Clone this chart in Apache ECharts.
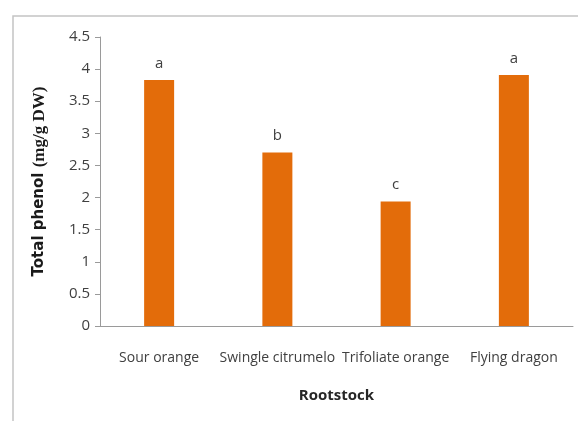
<!DOCTYPE html>
<html>
<head>
<meta charset="utf-8">
<script src="https://cdn.jsdelivr.net/npm/echarts@6/dist/echarts.min.js"></script>
<style>
  html, body { margin: 0; padding: 0; background: #ffffff; }
  #chart { width: 578px; height: 421px; }
</style>
</head>
<body>
<div id="chart"></div>
<script>
// Total phenol content by rootstock
const rootstocks = ['Sour orange', 'Swingle citrumelo', 'Trifoliate orange', 'Flying dragon'];
const totalPhenol = [3.83, 2.70, 1.94, 3.91];
const groupLetters = ['a', 'b', 'c', 'a'];
const yTicks = [0, 0.5, 1, 1.5, 2, 2.5, 3, 3.5, 4, 4.5];

const labelFont = '"Open Sans", "DejaVu Sans", sans-serif';

const chart = echarts.init(document.getElementById('chart'), null, { renderer: 'canvas' });

chart.setOption({
  backgroundColor: '#ffffff',
  animation: false,
  graphic: [{
    type: 'rect',
    shape: { x: 13, y: 16, width: 600, height: 440 },
    style: { fill: 'none', stroke: '#c4c4c4', lineWidth: 1.5 },
    silent: true
  }],
  grid: { left: 100, right: 5, top: 37, bottom: 95 },
  xAxis: {
    type: 'category',
    data: rootstocks,
    axisLine: { lineStyle: { color: '#9a9a9a', width: 1 } },
    axisTick: { show: false },
    axisLabel: {
      color: '#404040',
      fontFamily: labelFont,
      fontSize: 14,
      margin: 25,
      interval: 0
    },
    name: 'Rootstock',
    nameLocation: 'middle',
    nameGap: 62,
    nameTextStyle: {
      color: '#262626',
      fontFamily: labelFont,
      fontSize: 15,
      fontWeight: 'bold'
    }
  },
  yAxis: {
    type: 'value',
    min: yTicks[0],
    max: yTicks[yTicks.length - 1],
    interval: 0.5,
    splitLine: { show: false },
    axisLine: { show: true, lineStyle: { color: '#9a9a9a', width: 1 } },
    axisTick: { show: true, length: 5, lineStyle: { color: '#9a9a9a' } },
    axisLabel: {
      color: '#404040',
      fontFamily: labelFont,
      fontSize: 15,
      margin: 10
    },
    name: '{a|Total phenol }{b|(mg/g DW)}',
    nameLocation: 'middle',
    nameGap: 52,
    nameRotate: 90,
    nameTextStyle: {
      rich: {
        a: {
          fontFamily: '"DejaVu Sans", "Open Sans", sans-serif',
          fontWeight: 'bold',
          fontSize: 15,
          color: '#1a1a1a'
        },
        b: {
          fontFamily: '"Liberation Serif", "DejaVu Serif", serif',
          fontWeight: 'bold',
          fontSize: 17,
          color: '#1a1a1a'
        }
      }
    }
  },
  series: [{
    type: 'bar',
    data: totalPhenol,
    barWidth: 30,
    itemStyle: { color: '#e36c0a' },
    label: {
      show: true,
      position: 'top',
      distance: 9,
      color: '#404040',
      fontFamily: labelFont,
      fontSize: 15,
      formatter: (p) => groupLetters[p.dataIndex]
    }
  }]
});
</script>
</body>
</html>
